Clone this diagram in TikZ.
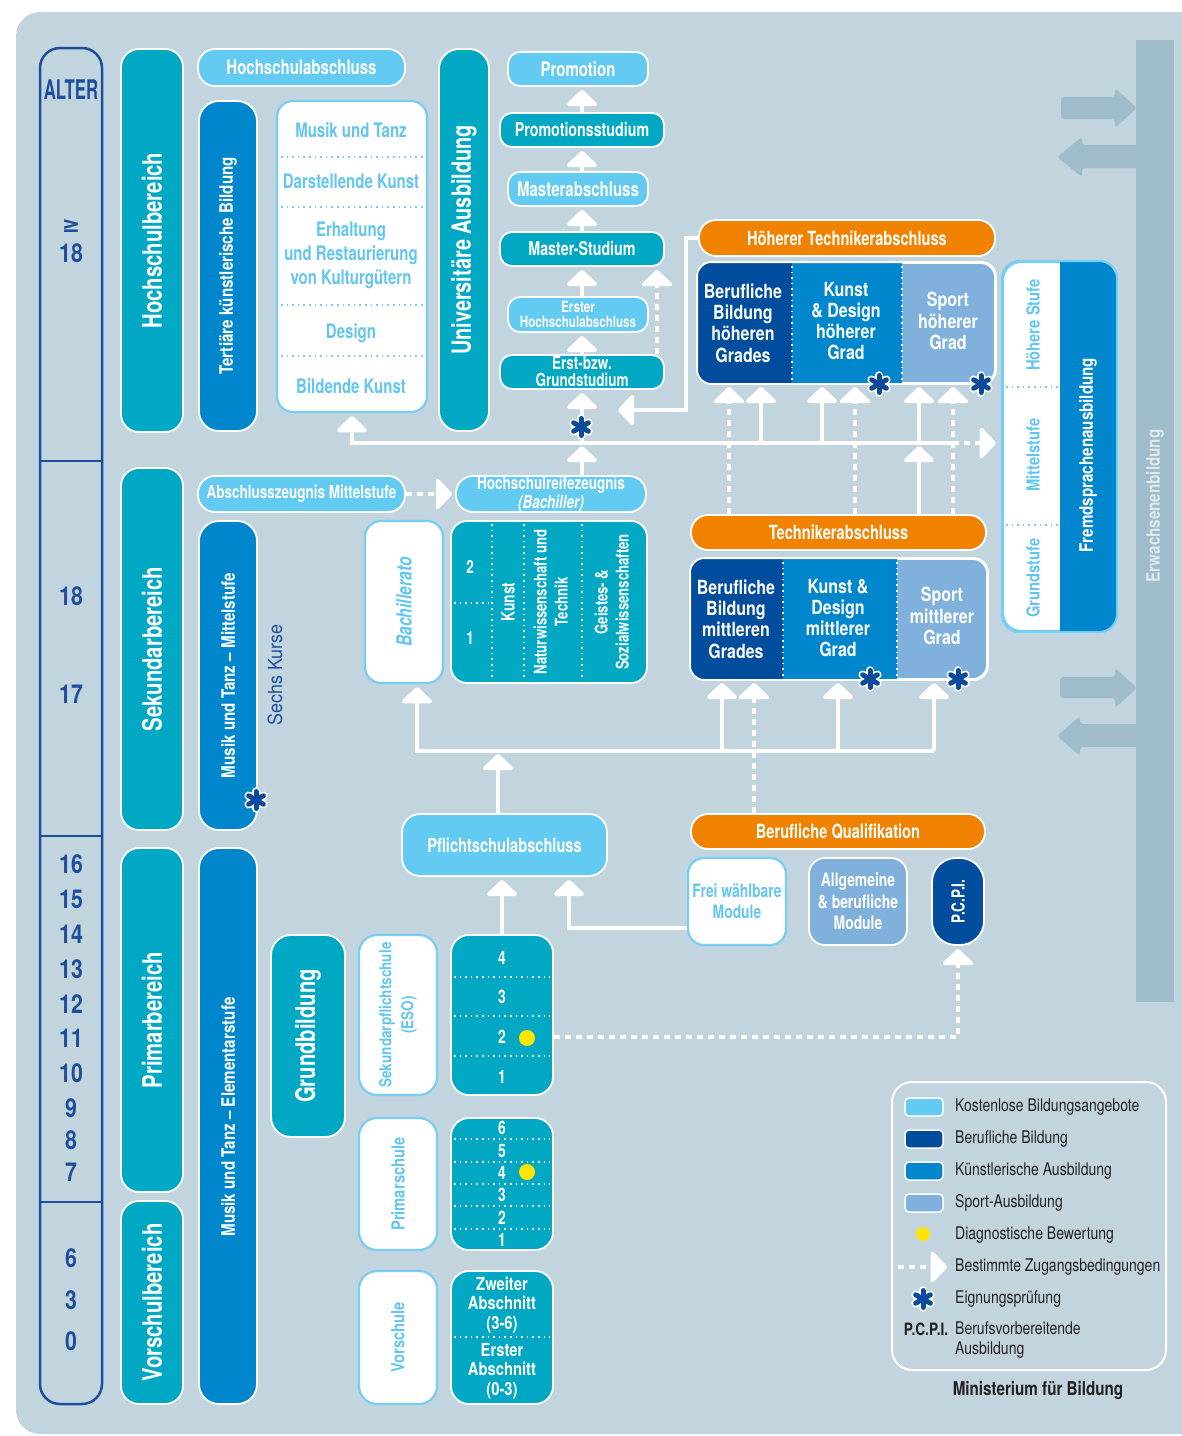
\documentclass[tikz,border=0pt]{standalone}
\usepackage{fontspec}
\setmainfont{TeX Gyre Heros}[FakeStretch=0.75]
\newfontfamily\medf{TeX Gyre Heros}[FakeStretch=0.82]
\newfontfamily\regf{TeX Gyre Heros}[FakeStretch=0.92]
\newfontfamily\legf{TeX Gyre Heros}[FakeStretch=0.8]
\newfontfamily\altf{TeX Gyre Heros}[FakeStretch=0.62]
\newfontfamily\djv{DejaVu Sans}
\usetikzlibrary{arrows.meta,calc}
\definecolor{cBg}{HTML}{C2D5DF}
\definecolor{cTeal}{HTML}{00A8C3}
\definecolor{cLight}{HTML}{63CAF1}
\definecolor{cArt}{HTML}{0086CC}
\definecolor{cDark}{HTML}{004D9D}
\definecolor{cSport}{HTML}{80B1DC}
\definecolor{cOrange}{HTML}{F18200}
\definecolor{cErw}{HTML}{9FBCCA}
\definecolor{cErwT}{HTML}{DDE9EF}
\definecolor{cNavy}{HTML}{1C4E9B}
\definecolor{cLightT}{HTML}{63C6EF}
\definecolor{cLightB}{HTML}{78CEF2}
\definecolor{cYel}{HTML}{FFE500}
\definecolor{cAst}{HTML}{0C4B9B}
\definecolor{cLegT}{HTML}{231F20}
\newcommand\fsz[2]{\fontsize{#1}{#2}\selectfont}
\newcommand\rotl[1]{\rotatebox{90}{\begin{tabular}{@{}c@{}}#1\end{tabular}}}
\newcommand\mkbox[7]{%
  \pgfmathsetmacro\nbcx{(#3+#5)/2}\pgfmathsetmacro\nbcy{(#4+#6)/2}%
  \pgfmathsetmacro\nbw{#5-#3}\pgfmathsetmacro\nbh{#6-#4}%
  \node[#2, minimum width=\nbw pt, minimum height=\nbh pt] (#1) at (\nbcx,\nbcy) {#7};}
\newcommand\astk[1]{%
  \foreach \angA in {90,30,150}{\draw[white,line width=8.5pt,line cap=round] ($(#1)+(\angA:8.5)$) -- ($(#1)+(\angA+180:8.5)$);}
  \foreach \angA in {90,30,150}{\draw[cAst,line width=5pt,line cap=round] ($(#1)+(\angA:8.5)$) -- ($(#1)+(\angA+180:8.5)$);}}
\tikzset{
  bx/.style={draw=white, line width=1.8pt, rounded corners=14pt, inner sep=0pt, align=center, text=white},
  tealb/.style={bx, fill=cTeal},
  lbx/.style={bx, fill=cLight},
  artb/.style={bx, fill=cArt},
  dkb/.style={bx, fill=cDark},
  spt/.style={bx, fill=cSport},
  orng/.style={bx, fill=cOrange, rounded corners=17pt},
  wht/.style={bx, fill=white, draw=cLightB, line width=2.2pt, text=cLightT},
  wline/.style={draw=white, line width=4pt},
  arr/.style={wline, -{Triangle[width=35pt,length=17pt,round]}, shorten >=3pt},
  darr/.style={arr, line width=3.5pt, dash pattern=on 6pt off 5pt},
  dots/.style={white, line width=1.6pt, dash pattern=on 1.6pt off 4pt},
  ldots/.style={cLightB, line width=1.6pt, dash pattern=on 1.6pt off 4pt},
  lbl/.style={inner sep=0pt, align=center, text=white},
  age/.style={inner sep=0pt, text=cNavy, font=\medf\fsz{26}{28}\bfseries},
  legt/.style={inner sep=0pt, anchor=west, align=left, text=cLegT, font=\legf\fsz{17.5}{20.5}},
  pillf/.style={font=\fsz{19.5}{21}\bfseries},
  chainf/.style={font=\fsz{19}{20}\bfseries},
  chainl/.style={font=\fsz{20}{21}\bfseries},
  colf/.style={font=\fsz{27}{30}\bfseries},
  col3f/.style={font=\medf\fsz{18.5}{20}\bfseries},
  boxf/.style={font=\medf\fsz{19.5}{21.3}\bfseries},
  artf/.style={lbl, text=cLightT, font=\fsz{20}{24}\bfseries},
}
\begin{document}
\begin{tikzpicture}[x=1pt,y=-1pt]
\useasboundingbox (0,0) rectangle (1182,1436);
\fill[cBg, rounded corners=24pt] (16,12) rectangle (1240,1434);

% ---------- adult education bar and arrows
\fill[cErw, rounded corners=3pt] (1061,97) -- (1115,97) -- (1115,88) -- (1137,108) -- (1115,128) -- (1115,119) -- (1061,119) -- cycle;
\fill[cErw, rounded corners=3pt] (1142,145) -- (1082,145) -- (1082,137) -- (1057,157) -- (1082,177) -- (1082,168) -- (1142,168) -- cycle;
\fill[cErw, rounded corners=3pt] (1060,677) -- (1115,677) -- (1115,668) -- (1137,688) -- (1115,708) -- (1115,698) -- (1060,698) -- cycle;
\fill[cErw, rounded corners=3pt] (1142,724) -- (1080,724) -- (1080,716) -- (1057,736) -- (1080,756) -- (1080,747) -- (1142,747) -- cycle;
\mkbox{erw}{fill=cErw, inner sep=0pt, text=cErwT, font=\medf\fsz{18.5}{20}\bfseries}{1136}{40}{1174}{1002}{\rotatebox{90}{\hspace*{30pt}Erwachsenenbildung}}

% ---------- age column
\mkbox{alter}{draw=cNavy, line width=2.5pt, rounded corners=20pt, inner sep=0pt}{40}{48}{102}{1404}{}
\draw[cNavy, line width=2.5pt] (41,461) -- (101,461);
\draw[cNavy, line width=2.5pt] (41,836) -- (101,836);
\draw[cNavy, line width=2.5pt] (41,1202) -- (101,1202);
\node[inner sep=0pt, text=cNavy, font=\altf\fsz{27}{30}\bfseries] (alt) at (71,90) {ALTER};
\node[inner sep=0pt, text=cNavy, font=\djv\fsz{22}{24}\bfseries] (ge) at (71,226) {≥};
\node[age] (age18a) at (71,253) {18};
\node[age] (age18) at (71,596) {18};
\node[age] (age17) at (71,694) {17};
\foreach \v/\yy in {16/864,15/899,14/934,13/969,12/1004,11/1038,10/1073,9/1108,8/1140,7/1172,6/1258,3/1300,0/1341}
  \node[age] (age\v) at (71,\yy) {\v};

% ---------- column 2 and 3
\mkbox{hb}{tealb, rounded corners=18pt, colf}{121}{49}{183}{432}{\rotatebox{90}{Hochschulbereich}}
\mkbox{sb}{tealb, rounded corners=18pt, colf}{121}{468}{183}{830}{\rotatebox{90}{Sekundarbereich}}
\mkbox{pb}{tealb, rounded corners=18pt, colf}{121}{848}{183}{1192}{\rotatebox{90}{Primarbereich}}
\mkbox{vb}{tealb, rounded corners=18pt, colf}{121}{1201}{183}{1404}{\rotatebox{90}{Vorschulbereich}}
\mkbox{tkb}{artb, rounded corners=20pt, col3f}{199}{101}{257}{431}{\rotatebox{90}{Tertiäre künstlerische Bildung}}
\mkbox{mtm}{artb, rounded corners=20pt, col3f}{199}{521}{257}{830}{\rotatebox{90}{Musik und Tanz – Mittelstufe}}
\mkbox{mte}{artb, rounded corners=20pt, col3f}{199}{848}{257}{1404}{\rotatebox{90}{\hspace*{18pt}Musik und Tanz – Elementarstufe}}
\node[inner sep=0pt, text=cNavy, font=\regf\fsz{19.5}{22}] (sechs) at (275,675) {\rotatebox{90}{Sechs Kurse}};

% ---------- higher education
\mkbox{hochab}{lbx, rounded corners=17pt, font=\fsz{20}{21}\bfseries}{198}{49}{405}{86}{Hochschulabschluss}
\mkbox{arts}{wht, rounded corners=16pt}{277}{101}{427}{412}{}
\foreach \yy in {157,207,305,356} \draw[ldots] (281,\yy) -- (424,\yy);
\node[artf] (mut) at (351,130) {Musik und Tanz};
\node[artf] (dk) at (351,181) {Darstellende Kunst};
\node[artf] (erh) at (351,255) {Erhaltung\\und Restaurierung\\von Kulturgütern};
\node[artf] (des) at (351,333) {Design};
\node[artf] (bk) at (351,386) {Bildende Kunst};
\mkbox{uni}{tealb, rounded corners=20pt, font=\fsz{26.5}{28}\bfseries}{439}{49}{489}{431}{\rotatebox{90}{Universitäre Ausbildung}}

\mkbox{prom}{lbx, rounded corners=12pt, chainl}{508}{52}{648}{86}{Promotion}
\mkbox{promst}{tealb, rounded corners=12pt, chainf}{500}{113}{664}{147}{Promotionsstudium}
\mkbox{mabs}{lbx, rounded corners=12pt, chainl}{508}{172}{648}{206}{Masterabschluss}
\mkbox{mst}{tealb, rounded corners=12pt, chainf}{500}{232}{664}{266}{Master-Studium}
\mkbox{ehab}{lbx, rounded corners=12pt, font=\fsz{15.5}{15}\bfseries}{508}{297}{648}{332}{Erster\\Hochschulabschluss}
\mkbox{grund}{tealb, rounded corners=12pt, font=\fsz{18}{17}\bfseries}{500}{355}{664}{389}{Erst-bzw.\\Grundstudium}

% ---------- technical higher
\mkbox{htab}{orng, pillf}{699}{220}{995}{256}{Höherer Technikerabschluss}
\mkbox{hoeh}{spt}{698}{263}{995}{383}{}
\begin{scope}
  \clip[rounded corners=14pt] (hoeh.south west) rectangle (hoeh.north east);
  \fill[cDark] (698,263) rectangle (792,383);
  \fill[cArt] (792,263) rectangle (902,383);
\end{scope}
\draw[white, line width=1.8pt, rounded corners=14pt] (hoeh.south west) rectangle (hoeh.north east);
\draw[dots] (792,266) -- (792,380);
\draw[dots] (902,266) -- (902,380);
\node[lbl, boxf] (hB) at (743,323) {Berufliche\\Bildung\\höheren\\Grades};
\node[lbl, boxf] (hK) at (846,321) {Kunst\\\& Design\\höherer\\Grad};
\node[lbl, boxf] (hS) at (948,321) {Sport\\höherer\\Grad};

\mkbox{tech}{orng, pillf}{691}{515}{986}{550}{Technikerabschluss}
\mkbox{mitt}{spt}{691}{559}{987}{679}{}
\begin{scope}
  \clip[rounded corners=14pt] (mitt.south west) rectangle (mitt.north east);
  \fill[cDark] (691,559) rectangle (783,679);
  \fill[cArt] (783,559) rectangle (897,679);
\end{scope}
\draw[white, line width=1.8pt, rounded corners=14pt] (mitt.south west) rectangle (mitt.north east);
\draw[dots] (783,562) -- (783,676);
\draw[dots] (897,562) -- (897,676);
\node[lbl, boxf] (mB) at (736,619) {Berufliche\\Bildung\\mittleren\\Grades};
\node[lbl, boxf] (mK) at (838,618) {Kunst \&\\Design\\mittlerer\\Grad};
\node[lbl, boxf] (mS) at (942,616) {Sport\\mittlerer\\Grad};

% ---------- foreign languages
\mkbox{fremd}{bx, fill=white, draw=cLightB, line width=2.2pt, rounded corners=18pt}{1003}{262}{1116}{631}{}
\begin{scope}
  \clip[rounded corners=18pt] (fremd.south west) rectangle (fremd.north east);
  \fill[cArt] (1060,262) rectangle (1116,631);
\end{scope}
\draw[cLightB, line width=2.2pt, rounded corners=18pt] (fremd.south west) rectangle (fremd.north east);
\draw[ldots] (1006,387) -- (1058,387);
\draw[ldots] (1006,525) -- (1058,525);
\node[lbl, text=cLightT, font=\medf\fsz{18}{20}\bfseries] (hst) at (1033,325) {\rotatebox{90}{Höhere Stufe}};
\node[lbl, text=cLightT, font=\medf\fsz{18}{20}\bfseries] (mst2) at (1033,455) {\rotatebox{90}{Mittelstufe}};
\node[lbl, text=cLightT, font=\medf\fsz{18}{20}\bfseries] (gst) at (1033,578) {\rotatebox{90}{Grundstufe}};
\node[lbl, font=\medf\fsz{18.5}{20}\bfseries] (fsa) at (1088,455) {\rotatebox{90}{Fremdsprachenausbildung}};

% ---------- secondary
\mkbox{azm}{lbx, rounded corners=17pt, font=\fsz{18}{20}\bfseries}{198}{476}{405}{512}{Abschlusszeugnis Mittelstufe}
\mkbox{hrz}{lbx, rounded corners=17pt, font=\fsz{18}{16.5}\bfseries}{456}{476}{646}{512}{Hochschulreifezeugnis\\{\itshape(Bachiller)}}
\mkbox{bach}{wht, rounded corners=16pt, font=\fsz{21}{23}\bfseries\itshape}{365}{521}{443}{683}{\rotatebox{90}{Bachillerato}}
\mkbox{bgrid}{tealb, rounded corners=16pt}{451}{521}{647}{683}{}
\draw[dots] (492,524) -- (492,680);
\draw[dots] (524,524) -- (524,680);
\draw[dots] (582,524) -- (582,680);
\draw[dots] (454,603) -- (490,603);
\node[lbl, font=\fsz{18}{20}\bfseries] (g2) at (470,567) {2};
\node[lbl, font=\fsz{18}{20}\bfseries] (g1) at (470,638) {1};
\node[lbl, font=\fsz{18.5}{20}\bfseries] (gk) at (508,602) {\rotatebox{90}{Kunst}};
\node[lbl, font=\fsz{17.5}{21}\bfseries] (gn) at (553,602) {\rotl{Naturwissenschaft und\\Technik}};
\node[lbl, font=\fsz{17.5}{21}\bfseries] (gg) at (614,602) {\rotl{Geistes- \&\\Sozialwissenschaften}};

\mkbox{pfl}{lbx, rounded corners=18pt, pillf}{402}{814}{607}{876}{Pflichtschulabschluss}
\mkbox{bq}{orng, font=\fsz{19.5}{21}\bfseries}{691}{814}{985}{849}{Berufliche Qualifikation}
\mkbox{frei}{wht, rounded corners=16pt, font=\fsz{18.5}{21}\bfseries}{688}{858}{786}{945}{Frei wählbare\\Module}
\mkbox{allg}{spt, rounded corners=16pt, font=\fsz{18.5}{21.5}\bfseries}{809}{858}{907}{945}{Allgemeine\\\& berufliche\\Module}
\mkbox{pcpi}{dkb, rounded corners=24pt, font=\fsz{18}{20}\bfseries}{932}{858}{984}{945}{\rotatebox{90}{P.C.P.I.}}

% ---------- primary / pre-school
\mkbox{gb}{tealb, rounded corners=20pt, font=\fsz{27}{30}\bfseries}{271}{935}{345}{1137}{\rotatebox{90}{Grundbildung}}
\mkbox{esol}{wht, rounded corners=18pt, font=\medf\fsz{16.5}{22}\bfseries}{359}{935}{437}{1095}{\rotl{Sekundarpflichtschule\\(ESO)}}
\mkbox{eso}{tealb, rounded corners=18pt}{451}{935}{553}{1095}{}
\foreach \yy in {977,1016,1056} \draw[dots] (454,\yy) -- (550,\yy);
\foreach \n/\yy in {4/958,3/997,2/1037,1/1077} \node[lbl, font=\fsz{18.5}{20}\bfseries] (e\n) at (502,\yy) {\n};
\node[circle, fill=cYel, minimum size=16pt, inner sep=0pt] (yd1) at (527,1038) {};

\mkbox{priml}{wht, rounded corners=18pt, font=\medf\fsz{18}{20}\bfseries}{359}{1118}{437}{1250}{\rotatebox{90}{Primarschule}}
\mkbox{prim}{tealb, rounded corners=18pt}{451}{1118}{553}{1250}{}
\foreach \yy in {1139,1162,1184,1206,1229} \draw[dots] (454,\yy) -- (550,\yy);
\foreach \n/\yy in {6/1128,5/1151,4/1173,3/1195,2/1218,1/1240} \node[lbl, font=\fsz{18.5}{20}\bfseries] (p\n) at (502,\yy) {\n};
\node[circle, fill=cYel, minimum size=16pt, inner sep=0pt] (yd2) at (527,1172) {};

\mkbox{vorl}{wht, rounded corners=18pt, font=\medf\fsz{18}{20}\bfseries}{359}{1271}{437}{1404}{\rotatebox{90}{Vorschule}}
\mkbox{vor}{tealb, rounded corners=18pt}{451}{1271}{553}{1404}{}
\draw[dots] (454,1337) -- (550,1337);
\node[lbl, font=\medf\fsz{18}{19.5}\bfseries] (v2) at (502,1305) {Zweiter\\Abschnitt\\(3-6)};
\node[lbl, font=\medf\fsz{18}{19.5}\bfseries] (v1) at (502,1371) {Erster\\Abschnitt\\(0-3)};

% ---------- coordinates for connectors
\coordinate (busA) at (0,443);
\coordinate (busB) at (0,751);
\coordinate (xB1) at (729,0);
\coordinate (xB2) at (761,0);
\coordinate (xK1) at (822,0);
\coordinate (xK2) at (855,0);
\coordinate (xS1) at (919,0);
\coordinate (xS2) at (953,0);
\coordinate (xdot) at (657,0);
\coordinate (xL) at (686,0);
\coordinate (htend) at (615,410);
\coordinate (xBa) at (417,0);
\coordinate (xP) at (498,0);
\coordinate (xM1) at (722,0);
\coordinate (xM2) at (754,0);
\coordinate (xM3) at (838,0);
\coordinate (xM4) at (934,0);
\coordinate (xF) at (569,0);
\coordinate (yF) at (0,928);
\coordinate (ydot) at (0,1037);

% ---------- connectors
\draw[arr] (promst.north) -- (promst.north |- prom.south);
\draw[arr] (promst.south |- mabs.north) -- (promst.south);
\draw[arr] (mst.north) -- (mst.north |- mabs.south);
\draw[arr] (mst.south |- ehab.north) -- (mst.south);
\draw[arr] (grund.north) -- (grund.north |- ehab.south);
\draw[darr] (xdot |- grund.north) -- (xdot |- mst.south);
\draw[arr] (grund.south |- busA) -- (grund.south);
\draw[arr] (grund.south |- hrz.north) -- (grund.south |- busA);
\draw[arr] (xS2 |- busA) -- (arts.south |- busA) -- (arts.south);
\draw[darr, shorten >=6pt] (xS2 |- busA) -- (fremd.west |- busA);
\draw[arr] (htab.west) -| (xL |- htend) -- (htend);

\draw[darr] (xB1 |- tech.north) -- (xB1 |- hoeh.south);
\draw[arr] (xB2 |- busA) -- (xB2 |- hoeh.south);
\draw[arr] (xK1 |- busA) -- (xK1 |- hoeh.south);
\draw[darr] (xK2 |- tech.north) -- (xK2 |- hoeh.south);
\draw[arr] (xS1 |- busA) -- (xS1 |- hoeh.south);
\draw[arr] (xS1 |- tech.north) -- (xS1 |- busA);
\draw[darr] (xS2 |- tech.north) -- (xS2 |- hoeh.south);

\draw[darr] (azm.east) -- (hrz.west);

\draw[arr] (xM4 |- busB) -- (xBa |- busB) -- (xBa |- bach.south);
\draw[arr] (xM1 |- busB) -- (xM1 |- mitt.south);
\draw[arr] (xM3 |- busB) -- (xM3 |- mitt.south);
\draw[arr] (xM4 |- busB) -- (xM4 |- mitt.south);
\draw[darr] (xM2 |- bq.north) -- (xM2 |- mitt.south);
\draw[arr] (xP |- pfl.north) -- (xP |- busB);
\draw[arr] (eso.north) -- (eso.north |- pfl.south);
\draw[arr] (frei.west |- yF) -| (xF |- pfl.south);
\draw[darr] (eso.east |- ydot) -| (pcpi.south);

% ---------- aptitude test marks
\astk{581,427}
\astk{879,384}
\astk{981,384}
\astk{870,679}
\astk{958,679}
\astk{256,800}

% ---------- legend
\mkbox{leg}{draw=white, line width=2pt, rounded corners=20pt, inner sep=0pt}{892}{1082}{1166}{1370}{}
\mkbox{sw1}{draw=white, line width=1.5pt, rounded corners=4pt, fill=cLight, inner sep=0pt}{905}{1098}{943}{1116}{}
\mkbox{sw2}{draw=white, line width=1.5pt, rounded corners=4pt, fill=cDark, inner sep=0pt}{905}{1130}{943}{1148}{}
\mkbox{sw3}{draw=white, line width=1.5pt, rounded corners=4pt, fill=cArt, inner sep=0pt}{905}{1162}{943}{1180}{}
\mkbox{sw4}{draw=white, line width=1.5pt, rounded corners=4pt, fill=cSport, inner sep=0pt}{905}{1194}{943}{1212}{}
\node[circle, fill=cYel, minimum size=14pt, inner sep=0pt] (ldot) at (923,1234) {};
\coordinate (la1) at (898,1267);
\coordinate (la2) at (947,1267);
\draw[darr, shorten >=0pt] (la1) -- (la2);
\astk{923,1299}
\node[legt] (lt1) at (955,1107) {Kostenlose Bildungsangebote};
\node[legt] (lt2) at (955,1139) {Berufliche Bildung};
\node[legt] (lt3) at (955,1171) {Künstlerische Ausbildung};
\node[legt] (lt4) at (955,1203) {Sport-Ausbildung};
\node[legt] (lt5) at (955,1235) {Diagnostische Bewertung};
\node[legt] (lt6) at (955,1267) {Bestimmte Zugangsbedingungen};
\node[legt] (lt7) at (955,1299) {Eignungsprüfung};
\node[legt] (lt8) at (955,1340) {Berufsvorbereitende\\Ausbildung};
\node[inner sep=0pt, text=cLegT, font=\legf\fsz{17}{20}\bfseries] (lpc) at (926,1329) {P.C.P.I.};
\node[inner sep=0pt, text=cLegT, font=\legf\fsz{19}{21}\bfseries] (min) at (1038,1390) {Ministerium für Bildung};
\end{tikzpicture}
\end{document}
